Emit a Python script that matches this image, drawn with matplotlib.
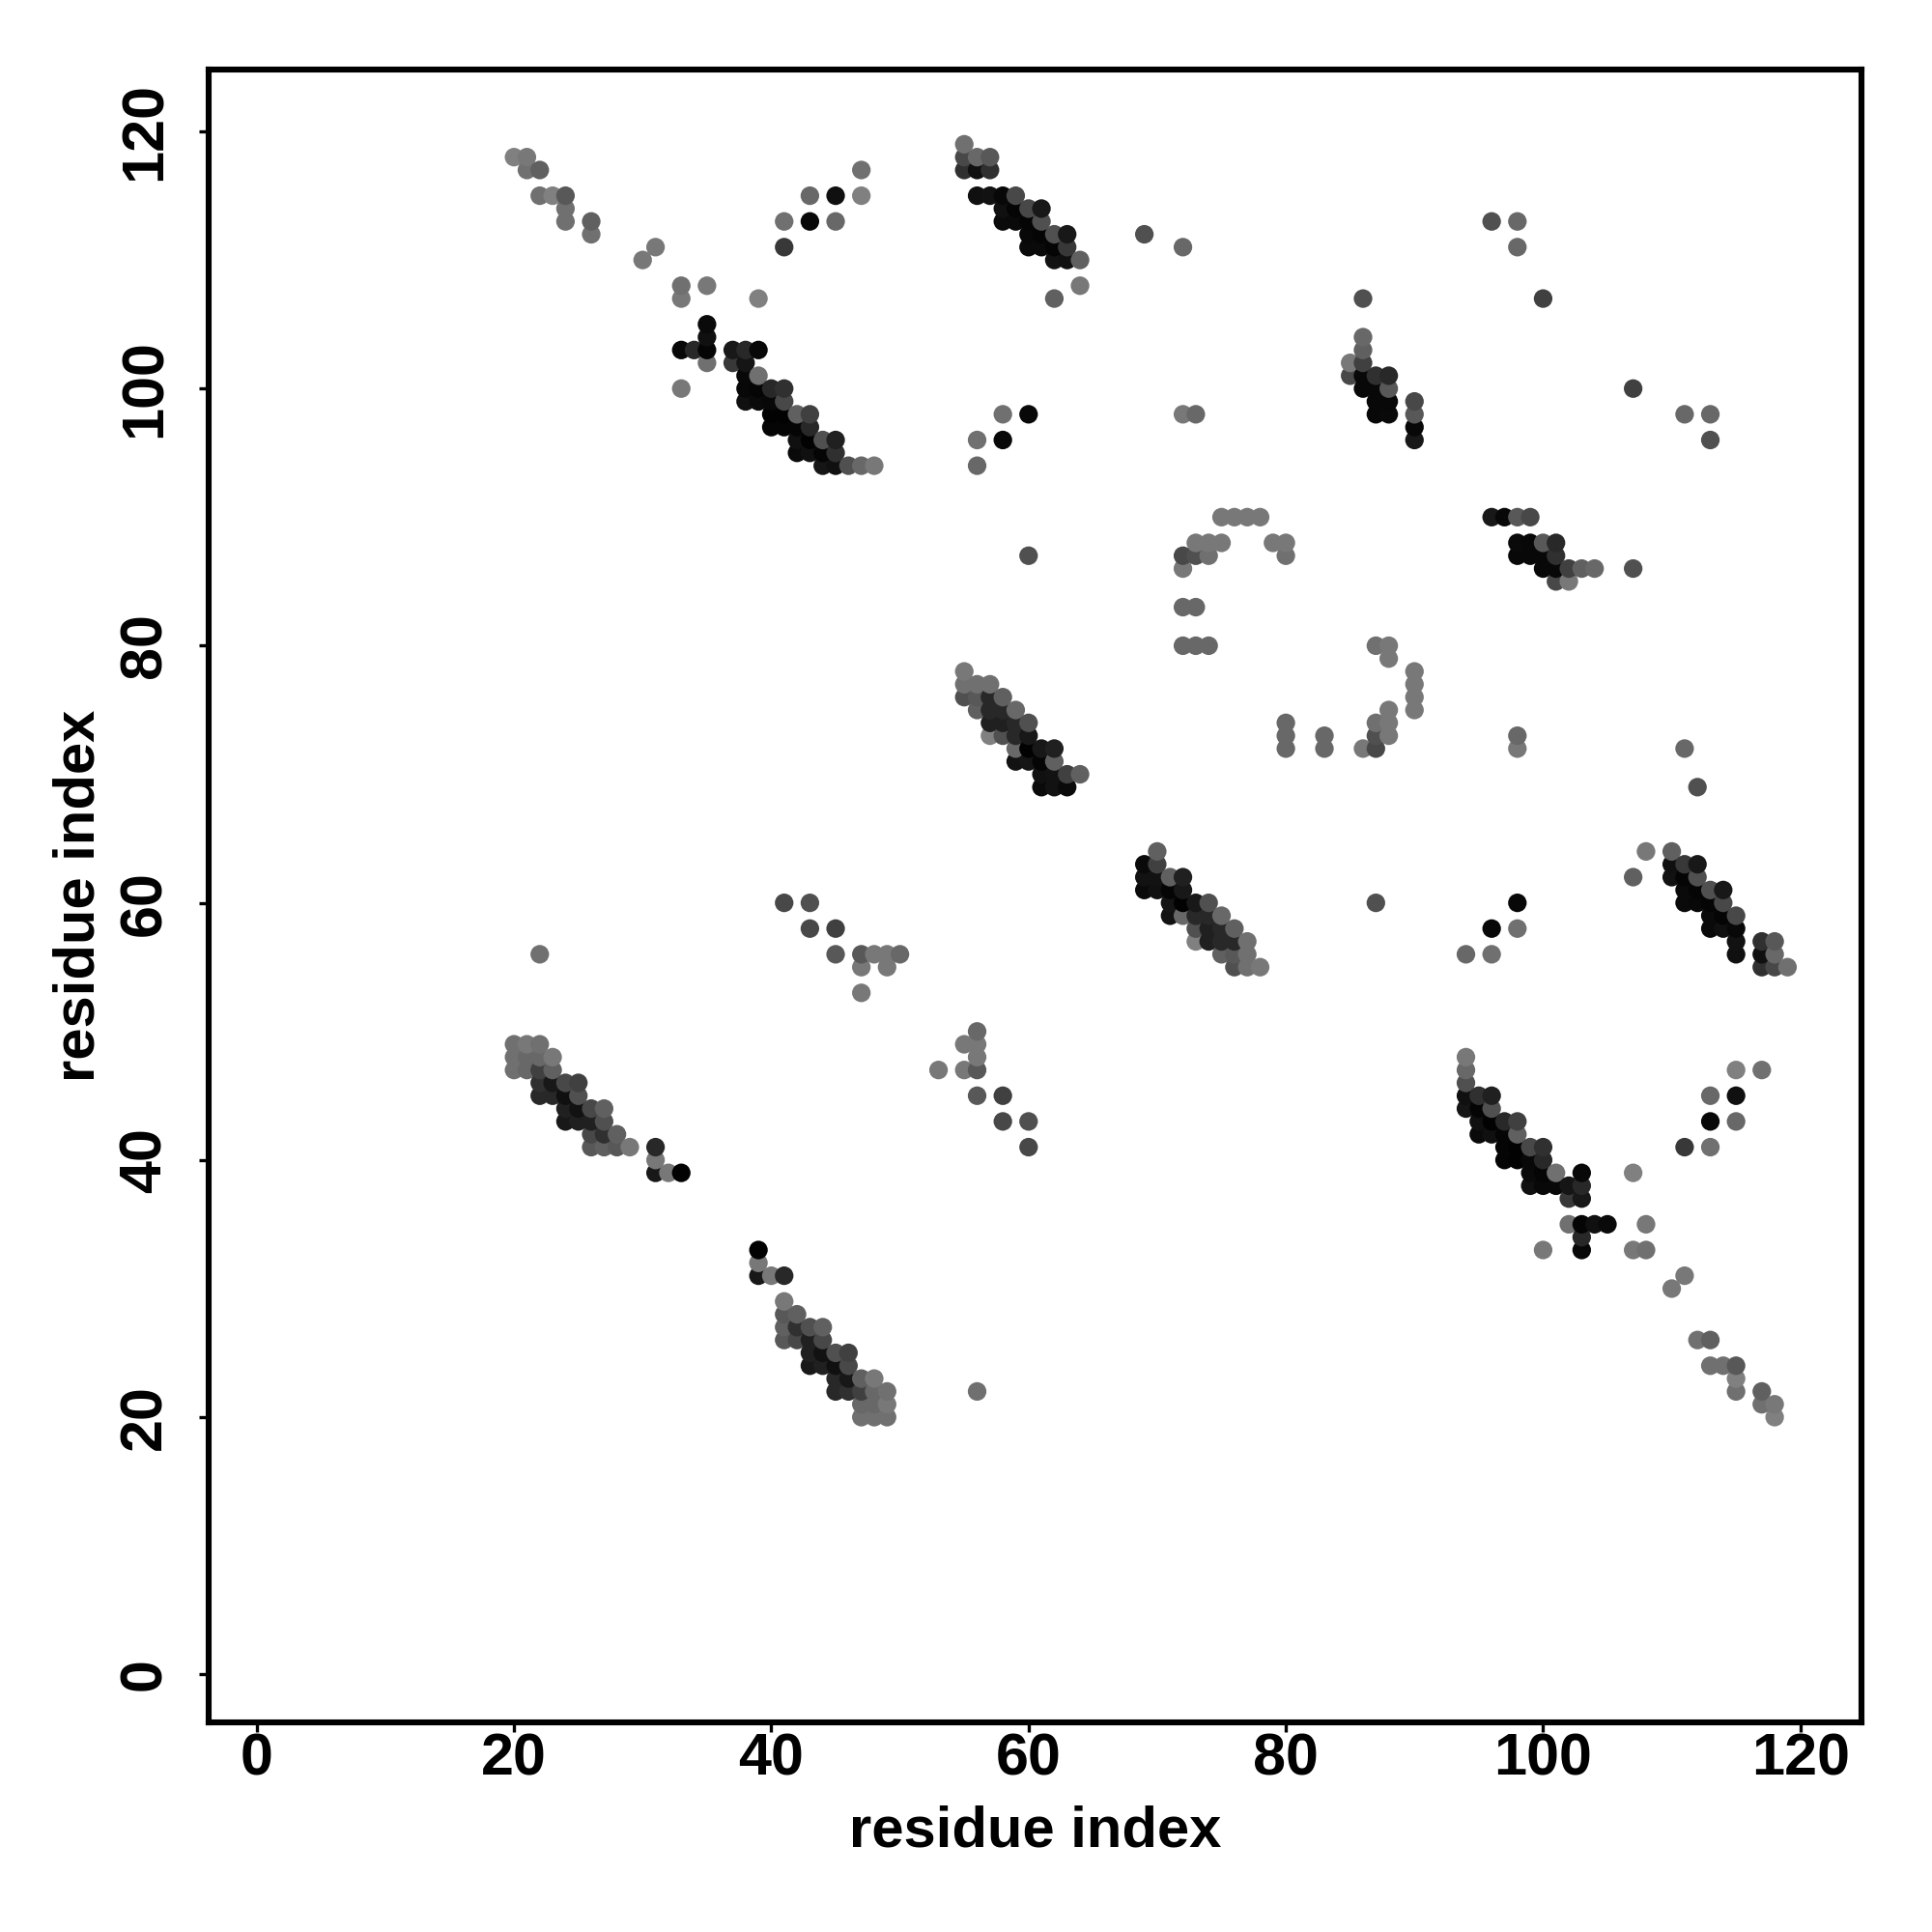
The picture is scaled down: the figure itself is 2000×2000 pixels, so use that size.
import numpy as np
import matplotlib
matplotlib.use("Agg")
import matplotlib.pyplot as plt

# Contacts in the upper triangle as (residue i, residue j, grey level 0-255); map is symmetric
tail_contacts = [(20,118,0x80),(21,118,0x78),(21,117,0x70),(22,117,0x60),(22,115,0x70),(23,115,0x80),(24,115,0x58),
 (24,114,0x70),(24,113,0x70),(26,113,0x60),(26,112,0x70),(31,111,0x78),(30,110,0x78),(33,108,0x70),(33,107,0x78),
 (35,108,0x78),(39,107,0x80),(47,117,0x70),(43,115,0x68),(45,115,0x10),(47,115,0x80),(41,113,0x70),(43,113,0x08),
 (45,113,0x68),(41,111,0x38)]
band_a = [(35,105,0x0a),(35,104,0x10),(33,103,0x08),(34,103,0x28),(35,103,0x05),(35,102,0x70),(37,103,0x18),(38,103,0x28),
 (39,103,0x08),(37,102,0x38),(38,102,0x15),(38,101,0x08),(39,101,0x70),(33,100,0x78),(38,100,0x08),(39,100,0x05),
 (40,100,0x28),(41,100,0x30),(38,99,0x10),(39,99,0x0a),(40,99,0x08),(41,99,0x48),(40,98,0x02),(41,98,0x02),(42,98,0x60),
 (43,98,0x40),(40,97,0x05),(41,97,0x05),(42,97,0x05),(43,97,0x28),(42,96,0x10),(43,96,0x02),(44,96,0x50),(45,96,0x20),
 (42,95,0x0a),(43,95,0x10),(44,95,0x05),(45,95,0x30),(44,94,0x15),(45,94,0x10),(46,94,0x50),(47,94,0x68),(48,94,0x78)]
band_b = [(55,119,0x70),(55,118,0x48),(56,118,0x68),(57,118,0x58),(55,117,0x30),(56,117,0x10),(57,117,0x30),(56,115,0x10),
 (57,115,0x12),(58,115,0x08),(59,115,0x48),(58,114,0x10),(59,114,0x05),(60,114,0x48),(61,114,0x18),(58,113,0x0a),
 (59,113,0x0a),(60,113,0x05),(61,113,0x50),(60,112,0x08),(61,112,0x05),(62,112,0x50),(63,112,0x18),(60,111,0x0a),
 (61,111,0x0a),(62,111,0x05),(63,111,0x38),(62,110,0x12),(63,110,0x10),(64,110,0x60),(64,108,0x78),(62,107,0x60),
 (69,112,0x50),(72,111,0x68)]
band_c = [(55,78,0x78),(55,77,0x70),(56,77,0x70),(57,77,0x70),(55,76,0x50),(56,76,0x58),(57,76,0x28),(58,76,0x60),
 (56,75,0x60),(57,75,0x28),(58,75,0x28),(59,75,0x68),(57,74,0x20),(58,74,0x20),(59,74,0x28),(60,74,0x50),(57,73,0x80),
 (58,73,0x50),(59,73,0x28),(60,73,0x18),(59,72,0x68),(60,72,0x02),(61,72,0x18),(62,72,0x20),(59,71,0x12),(60,71,0x15),
 (61,71,0x05),(62,71,0x60),(61,70,0x10),(62,70,0x12),(63,70,0x40),(64,70,0x60),(61,69,0x0a),(62,69,0x12),(63,69,0x0a)]
band_e = [(20,49,0x70),(21,49,0x78),(22,49,0x70),(20,48,0x70),(21,48,0x68),(22,48,0x68),(23,48,0x78),(20,47,0x70),(21,47,0x68),
 (22,47,0x40),(23,47,0x60),(22,46,0x30),(23,46,0x18),(24,46,0x48),(25,46,0x40),(22,45,0x28),(23,45,0x28),(24,45,0x10),
 (25,45,0x50),(24,44,0x20),(25,44,0x12),(26,44,0x48),(27,44,0x60),(24,43,0x18),(25,43,0x20),(26,43,0x20),(27,43,0x50),
 (26,42,0x48),(27,42,0x30),(28,42,0x60),(26,41,0x58),(27,41,0x60),(28,41,0x58),(29,41,0x78),(31,41,0x28),(31,40,0x78),
 (31,39,0x18),(32,39,0x78),(33,39,0x02)]
band_h = [(86,107,0x50),(86,104,0x68),(86,103,0x60),(85,102,0x78),(86,102,0x40),(85,101,0x48),(86,101,0x08),(87,101,0x30),
 (88,101,0x28),(86,100,0x08),(87,100,0x08),(88,100,0x58),(87,99,0x08),(88,99,0x08),(90,99,0x48),(87,98,0x08),(88,98,0x0a),
 (90,98,0x58),(90,97,0x08),(90,96,0x18)]
sparse_upper = [(96,113,0x50),(98,113,0x68),(98,111,0x68),(100,107,0x40),
 (56,96,0x70),(56,94,0x68),(58,98,0x70),(58,96,0x08),(60,98,0x08),(72,98,0x78),(73,98,0x68),(60,87,0x50)]
turn_contacts = [(72,86,0x78),(72,87,0x48),(73,87,0x50),(74,87,0x70),(73,88,0x78),(74,88,0x78),(75,88,0x78),(75,90,0x78),
 (76,90,0x78),(77,90,0x78),(78,90,0x78),(79,88,0x78),(80,88,0x78),(80,87,0x70),(72,83,0x68),(73,83,0x68),(72,80,0x68),
 (73,80,0x68),(74,80,0x68)]
sparse_lower = [(22,56,0x70),(41,60,0x48),(43,60,0x50),(43,58,0x48),(45,58,0x40),(45,56,0x58),(47,56,0x58),(48,56,0x78),
 (49,56,0x78),(50,56,0x68),(47,55,0x78),(49,55,0x78),(47,53,0x78)]

tick_values = [0, 20, 40, 60, 80, 100, 120]
axis_label = "residue index"

contacts = np.array(tail_contacts + band_a + band_b + band_c + band_e + band_h
                    + sparse_upper + turn_contacts + sparse_lower)
xs = np.concatenate([contacts[:, 0], contacts[:, 1]])
ys = np.concatenate([contacts[:, 1], contacts[:, 0]])
gs = np.concatenate([contacts[:, 2], contacts[:, 2]]) / 255.0
order = np.lexsort((ys, xs))

plt.rcParams["font.family"] = ["Liberation Sans", "DejaVu Sans"]
plt.rcParams["font.weight"] = "bold"

fig = plt.figure(figsize=(20, 20), dpi=100, facecolor="white")
ax = fig.add_axes([216/2000, 1-1783/2000, (1927-216)/2000, (1783-71.5)/2000])
ax.scatter(xs[order], ys[order], c=[(g, g, g) for g in gs[order]], s=192, linewidths=0, zorder=3)
ax.set_xlim(-3.74, 124.75)
ax.set_ylim(-3.74, 124.85)
ax.set_xticks(tick_values)
ax.set_yticks(tick_values)
ax.tick_params(axis="both", length=7.5, width=2.4, labelsize=44, color="black")
ax.tick_params(axis="x", pad=0)
ax.tick_params(axis="y", pad=19)
for t in ax.get_yticklabels():
    t.set_rotation(90)
    t.set_va("center")
for s in ax.spines.values():
    s.set_linewidth(4.4)
ax.set_xlabel(axis_label, fontsize=43, fontweight="bold")
ax.set_ylabel(axis_label, fontsize=43, fontweight="bold")
ax.xaxis.set_label_coords(0.5, (1783-1868)/(1783-71.5))
ax.yaxis.set_label_coords((110-216)/(1927-216), 0.5)
fig.savefig("out.png", dpi=100)
